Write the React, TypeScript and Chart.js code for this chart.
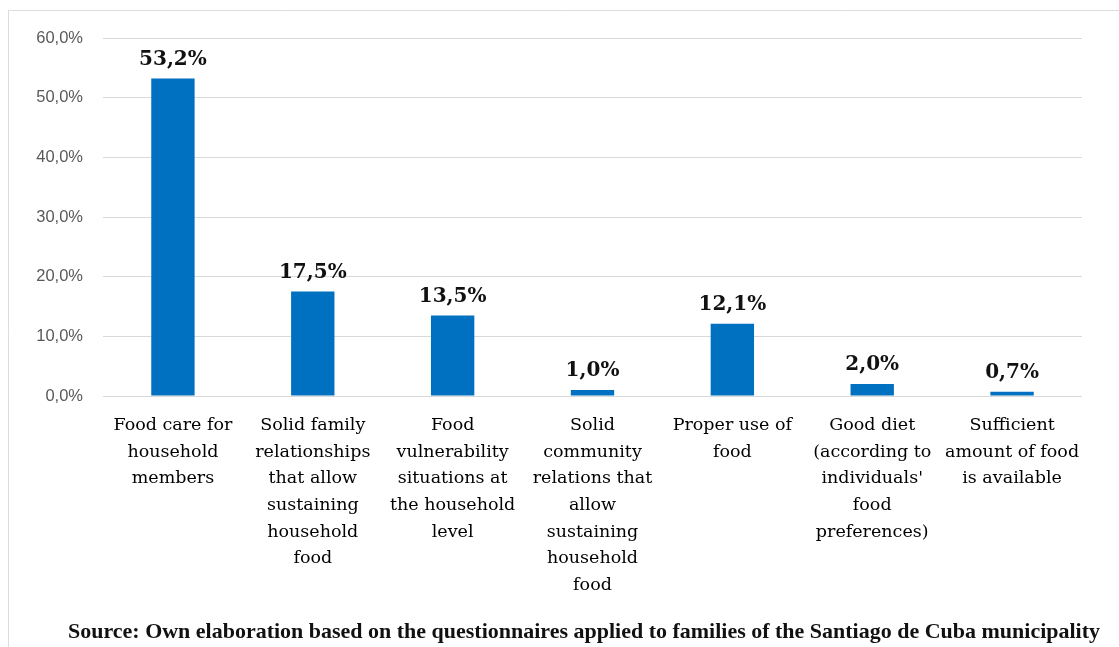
import React, { useEffect, useRef } from "react";
import { Chart, registerables } from "chart.js";

Chart.register(...registerables);

const categories: string[][] = [
  ["Food care for", "household", "members"],
  ["Solid family", "relationships", "that allow", "sustaining", "household", "food"],
  ["Food", "vulnerability", "situations at", "the household", "level"],
  ["Solid", "community", "relations that", "allow", "sustaining", "household", "food"],
  ["Proper use of", "food"],
  ["Good diet", "(according to", "individuals'", "food", "preferences)"],
  ["Sufficient", "amount of food", "is available"],
];
const values: number[] = [53.2, 17.5, 13.5, 1.0, 12.1, 2.0, 0.7];
const yTicks: number[] = [0, 10, 20, 30, 40, 50, 60];
const sourceText =
  "Source: Own elaboration based on the questionnaires applied to families of the Santiago de Cuba municipality";

const fmt = (v: number) => v.toFixed(1).replace(".", ",") + "%";

const extrasPlugin = {
  id: "extras",
  beforeDraw(chart: any) {
    const ctx = chart.ctx;
    ctx.save();
    ctx.fillStyle = "#ffffff";
    ctx.fillRect(0, 0, chart.width, chart.height);
    ctx.strokeStyle = "#dcdcdc";
    ctx.lineWidth = 1;
    ctx.beginPath();
    ctx.moveTo(8.5, chart.height);
    ctx.lineTo(8.5, 10.5);
    ctx.lineTo(chart.width, 10.5);
    ctx.stroke();
    ctx.restore();
  },
  afterDatasetsDraw(chart: any) {
    const ctx = chart.ctx;
    const meta = chart.getDatasetMeta(0);
    ctx.save();
    ctx.fillStyle = "#111111";
    ctx.font = "bold 20px 'DejaVu Serif'";
    ctx.textAlign = "center";
    ctx.textBaseline = "middle";
    meta.data.forEach((bar: any, i: number) => {
      ctx.fillText(fmt(values[i]), bar.x, bar.y - 19);
    });
    ctx.font = "bold 22px 'Liberation Serif'";
    ctx.fillStyle = "#111111";
    ctx.fillText(sourceText, 584, 632, 1032);
    ctx.restore();
  },
};

export default function App() {
  const ref = useRef<HTMLCanvasElement | null>(null);
  useEffect(() => {
    if (!ref.current) return;
    const chart = new Chart(ref.current, {
      type: "bar",
      data: {
        labels: categories,
        datasets: [
          {
            data: values,
            backgroundColor: "#0070C0",
            barPercentage: 0.31,
            categoryPercentage: 1,
          },
        ],
      },
      options: {
        responsive: false,
        animation: false,
        layout: { padding: { top: 38, right: 37, left: 0, bottom: 0 } },
        plugins: { legend: { display: false }, tooltip: { enabled: false } },
        scales: {
          x: {
            grid: { display: false, drawTicks: false },
            border: { display: false },
            ticks: {
              autoSkip: false,
              maxRotation: 0,
              minRotation: 0,
              padding: 16,
              color: "#000000",
              font: { family: "'DejaVu Serif'", size: 17.5, lineHeight: 1.525 },
            },
            afterFit: (s: any) => {
              s.height = 251;
            },
          },
          y: {
            min: 0,
            max: 60,
            afterBuildTicks: (s: any) => {
              s.ticks = yTicks.map((v) => ({ value: v }));
            },
            grid: { color: "#d9d9d9", drawTicks: false, lineWidth: 1 },
            border: { display: false },
            ticks: {
              padding: 20,
              color: "#595959",
              font: { family: "'Liberation Sans'", size: 16.5 },
              callback: (v: any) => fmt(Number(v)),
            },
            afterFit: (s: any) => {
              s.width = 103;
            },
          },
        },
      },
      plugins: [extrasPlugin],
    });
    return () => chart.destroy();
  }, []);
  return (
    <div style={{ position: "absolute", left: 0, top: 0, width: 1119, height: 647 }}>
      <canvas ref={ref} width={1119} height={647} />
    </div>
  );
}
